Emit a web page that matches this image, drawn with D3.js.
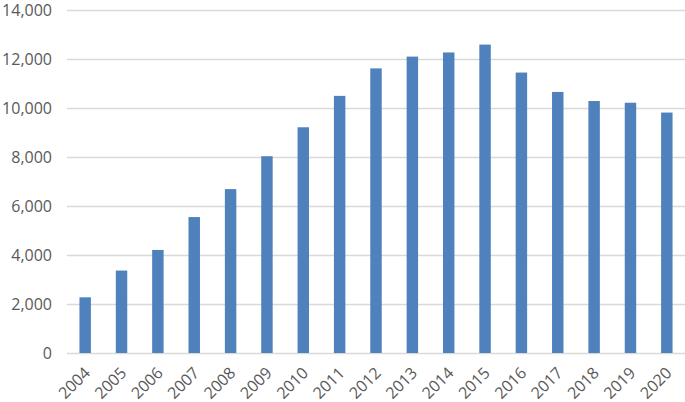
<!DOCTYPE html>
<html>
<head>
<meta charset="utf-8">
<script src="https://cdn.jsdelivr.net/npm/d3@7"></script>
<style>
  body { margin: 0; background: #fff; }
  svg text { font-family: 'Open Sans', 'Liberation Sans', sans-serif; fill: #595959; }
</style>
</head>
<body>
<div id="chart"></div>
<script>
var years = ['2004', '2005', '2006', '2007', '2008', '2009', '2010', '2011', '2012',
             '2013', '2014', '2015', '2016', '2017', '2018', '2019', '2020']
var values = [2270, 3360, 4200, 5540, 6680, 8020, 9200, 10480, 11600,
              12080, 12250, 12570, 11430, 10640, 10270, 10200, 9800]
var yTicks = [0, 2000, 4000, 6000, 8000, 10000, 12000, 14000]

var svgWidth = 685,
    svgHeight = 402,
    plotLeft = 67,
    plotRight = 685,
    plotTop = 9.5,
    plotBottom = 353,
    barColor = '#4f81bd',
    gridColor = '#d9d9d9'

var svg = d3.select('#chart')
    .append('svg')
    .attr('width', svgWidth)
    .attr('height', svgHeight)

var x = d3.scaleBand()
    .domain(years)
    .range([plotLeft, plotRight])
    .paddingInner(0.685)
    .paddingOuter(0.685 / 2)

var y = d3.scaleLinear()
    .domain([0, 14000])
    .range([plotBottom, plotTop])

// сетка
svg.append('g')
    .selectAll('line')
    .data(yTicks)
    .enter()
    .append('line')
    .attr('x1', plotLeft)
    .attr('x2', plotRight)
    .attr('y1', d => Math.round(y(d)) + 0.5)
    .attr('y2', d => Math.round(y(d)) + 0.5)
    .style('stroke', gridColor)
    .style('stroke-width', 1.3)

// ось Y
var yAxis = svg.append('g')
    .attr('transform', 'translate(' + (plotLeft - 15) + ',0)')
    .call(d3.axisLeft(y).tickValues(yTicks).tickSize(0).tickFormat(d3.format(',')))
yAxis.select('.domain').remove()
yAxis.selectAll('text')
    .style('font-size', '16px')
    .attr('fill', '#595959')
    .attr('x', 0)
    .attr('dy', '0.35em')

// бары
svg.append('g')
    .selectAll('rect')
    .data(values)
    .enter()
    .append('rect')
    .attr('x', (d, i) => x(years[i]))
    .attr('width', x.bandwidth())
    .attr('y', d => y(d))
    .attr('height', d => y(0) - y(d))
    .style('fill', barColor)

// ось X
var xAxis = svg.append('g')
    .attr('transform', 'translate(0,' + plotBottom + ')')
    .call(d3.axisBottom(x).tickSize(0))
xAxis.select('.domain').remove()
xAxis.selectAll('text')
    .style('font-size', '16px')
    .attr('fill', '#595959')
    .attr('text-anchor', 'end')
    .attr('y', 0)
    .attr('dy', '0.35em')
    .attr('transform', 'translate(2,17) rotate(-45)')
</script>
</body>
</html>
